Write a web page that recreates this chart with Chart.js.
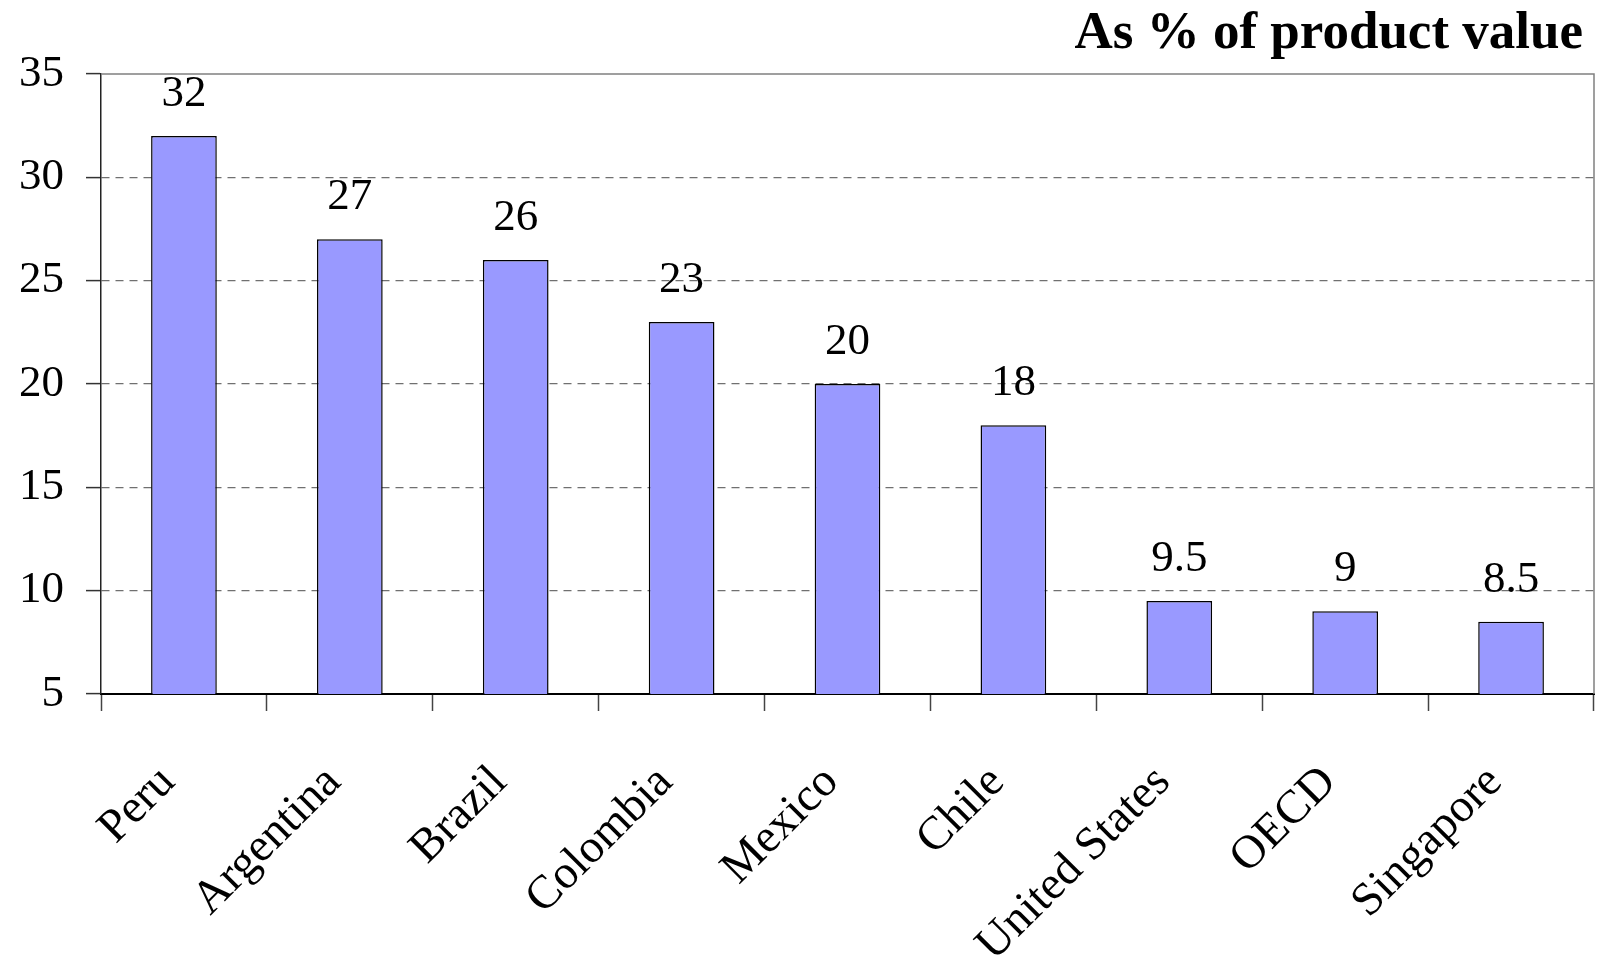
<!DOCTYPE html>
<html>
<head>
<meta charset="utf-8">
<script src="https://cdn.jsdelivr.net/npm/chart.js@4"></script>
<style>
  body { margin: 0; background: #fff; }
  #wrap { width: 1598px; height: 958px; }
</style>
</head>
<body>
<div id="wrap"><canvas id="myChart"></canvas></div>
<script>
let categories = ['Peru', 'Argentina', 'Brazil', 'Colombia', 'Mexico', 'Chile', 'United States', 'OECD', 'Singapore'];
let values = [32, 27, 26, 23, 20, 18, 9.5, 9, 8.5];
let yMin = 5;
let yMax = 35;
let yStep = 5;
let unitTitle = 'As % of product value';

const serif = '"Liberation Serif", "Times New Roman", Times, serif';

// value labels above each bar
const barLabels = {
    id: 'barLabels',
    afterDatasetsDraw(chart) {
        const c = chart.ctx;
        const meta = chart.getDatasetMeta(0);
        c.save();
        c.font = '45px ' + serif;
        c.fillStyle = '#000';
        c.textAlign = 'center';
        c.textBaseline = 'alphabetic';
        meta.data.forEach((bar, i) => {
            c.fillText(String(values[i]), bar.x, bar.y - 30);
        });
        c.restore();
    }
};

// solid frame on top and right, plus the unit title
const frame = {
    id: 'frame',
    beforeDatasetsDraw(chart) {
        const a = chart.chartArea;
        const c = chart.ctx;
        c.save();
        c.strokeStyle = '#808080';
        c.lineWidth = 1.5;
        c.beginPath();
        c.moveTo(a.left, a.top);
        c.lineTo(a.right, a.top);
        c.lineTo(a.right, a.bottom);
        c.stroke();
        c.restore();
    },
    afterDraw(chart) {
        const c = chart.ctx;
        c.save();
        c.font = 'bold 53px ' + serif;
        c.fillStyle = '#000';
        c.textAlign = 'right';
        c.textBaseline = 'alphabetic';
        c.fillText(unitTitle, chart.width - 15, 48);
        c.restore();
    }
};

let ctx = document.getElementById('myChart').getContext('2d');
let myChart = new Chart(ctx, {
    type: 'bar',
    data: {
        labels: categories,
        datasets: [{
            data: values,
            backgroundColor: '#9999FF',
            borderColor: '#000',
            borderWidth: 1.5,
            categoryPercentage: 0.44,
            barPercentage: 0.9
        }]
    },
    options: {
        responsive: true,
        maintainAspectRatio: false,
        animation: false,
        layout: { padding: { top: 74, right: 4, left: 0, bottom: 0 } },
        plugins: {
            legend: { display: false },
            tooltip: { enabled: false }
        },
        scales: {
            x: {
                grid: {
                    offset: true,
                    drawOnChartArea: false,
                    tickLength: 17,
                    tickColor: '#444',
                    tickWidth: 1.5
                },
                border: { color: '#000', width: 2 },
                ticks: {
                    autoSkip: false,
                    maxRotation: 45,
                    minRotation: 45,
                    padding: 44,
                    labelOffset: -16,
                    color: '#000',
                    font: { family: serif, size: 47 }
                },
                afterFit(scale) { scale.height = 264; }
            },
            y: {
                min: yMin,
                max: yMax,
                grid: {
                    color: (c) => (c.tick && (c.tick.value === yMax || c.tick.value === yMin)) ? 'rgba(0,0,0,0)' : '#707070',
                    lineWidth: 1.2,
                    tickLength: 15,
                    tickColor: '#333',
                    tickWidth: 1.5
                },
                border: { color: '#222', width: 1.5, dash: [8, 6] },
                ticks: {
                    stepSize: yStep,
                    padding: 22,
                    color: '#000',
                    font: { family: serif, size: 45 }
                },
                afterFit(scale) { scale.width = 101; }
            }
        }
    },
    plugins: [barLabels, frame]
});
</script>
</body>
</html>
